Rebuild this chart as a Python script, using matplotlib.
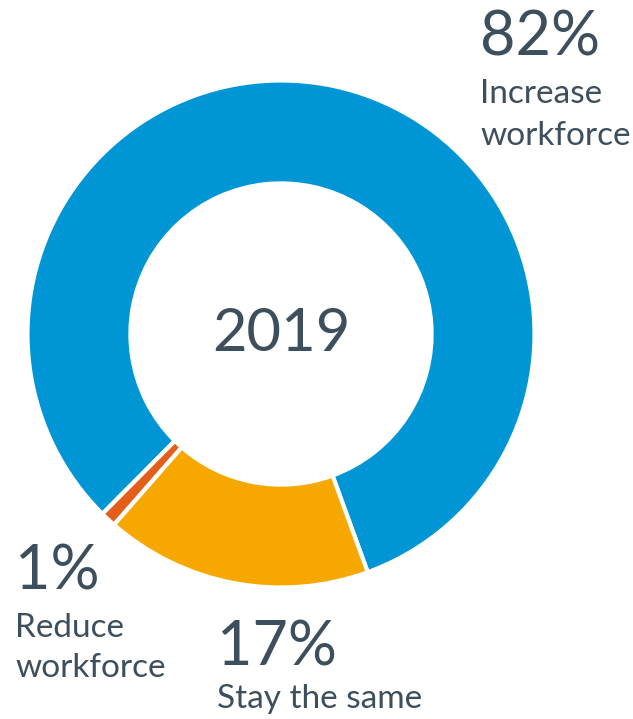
import matplotlib.pyplot as plt

labels = ["Increase\nworkforce", "Reduce\nworkforce", "Stay the same"]
values = [82, 1, 17]
colors = ["#0096D6", "#E35E1A", "#F7A800"]
center_label = "2019"

txt_color = "#3D4F5C"
plt.rcParams['font.family'] = ['Lato', 'DejaVu Sans']

W, H = 633, 719
fig = plt.figure(figsize=(W / 100, H / 100), dpi=100)

# donut: centre (281, 334) px, outer radius 251 px
cx, cy, r = 281, 334, 251
ax = fig.add_axes([(cx - r) / W, (H - cy - r) / H, 2 * r / W, 2 * r / H])
ax.pie(values, colors=colors, startangle=290, counterclock=True,
       radius=1.01, wedgeprops=dict(width=0.41, edgecolor="white", linewidth=3))
ax.set_xlim(-1, 1)
ax.set_ylim(-1, 1)
ax.text(0, 0, center_label, ha="center", va="center", fontsize=43, color=txt_color)


def put(x, y, s, size):
    fig.text(x / W, 1 - y / H, s, fontsize=size, color=txt_color, ha="left", va="baseline")


# percentages and labels, positions in pixels (baseline)
put(480, 55, f"{values[0]}%", 44)
put(480, 103, labels[0].split("\n")[0], 24)
put(480, 145, labels[0].split("\n")[1], 24)

put(15, 590, f"{values[1]}%", 44)
put(15, 637, labels[1].split("\n")[0], 24)
put(15, 677, labels[1].split("\n")[1], 24)

put(217, 665, f"{values[2]}%", 44)
put(217, 708, labels[2], 24)

fig.savefig("out.png", dpi=100)
